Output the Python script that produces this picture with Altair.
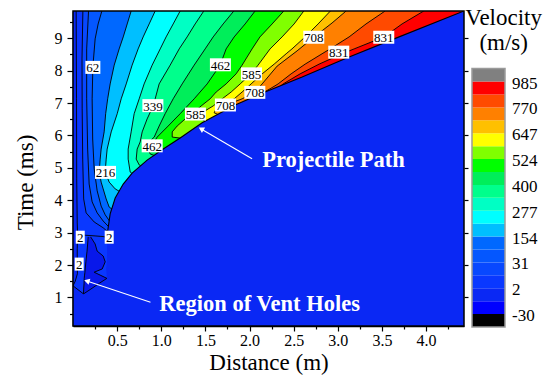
import altair as alt
import pandas as pd

FONT = "Liberation Serif, Times New Roman, serif"

# ---------------- axis extents / ticks ----------------
X_MAX = 4.43
T_MIN = 0.12
T_MAX = 9.84
x_ticks = [0.25, 0.5, 0.75, 1.0, 1.25, 1.5, 1.75, 2.0, 2.25, 2.5, 2.75, 3.0, 3.25, 3.5, 3.75, 4.0, 4.25]
t_ticks = [0.5, 1.0, 1.5, 2.0, 2.5, 3.0, 3.5, 4.0, 4.5, 5.0, 5.5, 6.0, 6.5, 7.0, 7.5, 8.0, 8.5, 9.0, 9.5]
t_major = [1, 2, 3, 4, 5, 6, 7, 8, 9]

# ---------------- colour bands (bottom -> top) ----------------
band_colors = ["#000000", "#0000ff", "#0a28f4", "#0a38ff", "#0848ff", "#0457ff", "#0068ff",
               "#00bfff", "#00ffff", "#00ffc4", "#00ff8c", "#00ee5a", "#00ff00", "#80ff00",
               "#ffff00", "#ffc000", "#ff8000", "#ff4a00", "#ff0000", "#808080"]
vent_color = "#0818ea"
cb_values = ["-30", "2", "31", "154", "277", "400", "524", "647", "770", "985"]
cb_value_band = [1, 3, 5, 7, 9, 11, 13, 15, 17, 19]

# ---------------- projectile path (boundary of undisturbed region) ----------------
path_t = [9.84, 8.98, 8.42, 8.20, 7.80, 7.34, 6.94, 6.39, 5.92, 5.58, 5.24, 4.84, 4.50, 4.07, 3.58, 3.05, 2.81]
path_x = [4.43, 3.638, 3.128, 2.935, 2.596, 2.176, 1.837, 1.463, 1.214, 1.022, 0.840, 0.670, 0.569, 0.478, 0.421, 0.393, 0.387]
flat_low_t = [2.50, 2.19, 1.88, 1.59, 1.11, 1.08, 0.12]
flat_low_x = [0.387, 0.387, 0.376, 0.384, 0.119, 0.0, 0.0]

# ---------------- contour lines (time ms, distance m) ----------------
c23_t = [9.84, 7.13, 4.66, 3.30, 2.95, 2.50, 2.03, 1.73, 1.50, 1.36, 1.11]
c23_x = [0.036, 0.040, 0.042, 0.048, 0.053, 0.048, 0.048, 0.050, 0.025, 0.0, 0.119]
c34_t = [9.84, 8.36, 6.82, 5.27, 4.04, 3.61, 3.33, 3.15, 2.99]
c34_x = [0.112, 0.102, 0.104, 0.110, 0.121, 0.149, 0.240, 0.342, 0.410]
c45_t = [9.84, 8.67, 7.13, 5.58, 4.50, 3.95, 3.61, 3.36, 3.15]
c45_x = [0.176, 0.155, 0.155, 0.166, 0.183, 0.217, 0.274, 0.342, 0.416]
c56_t = [9.84, 9.44, 8.98, 8.11, 7.13, 5.89, 4.97, 4.29, 3.82, 3.55, 3.33]
c56_x = [0.327, 0.285, 0.251, 0.225, 0.217, 0.223, 0.240, 0.274, 0.319, 0.365, 0.421]
c67_t = [9.84, 9.44, 9.04, 8.67, 8.17, 7.59, 7.13, 6.67, 6.11, 5.58, 5.27, 4.87, 4.56, 4.35, 4.04, 3.79, 3.70]
c67_x = [0.659, 0.614, 0.569, 0.523, 0.467, 0.421, 0.393, 0.370, 0.353, 0.319, 0.308, 0.297, 0.319, 0.342, 0.376, 0.410, 0.455]
c78_t = [9.84, 9.44, 9.04, 8.67, 8.17, 7.59, 7.13, 6.67, 6.11, 5.58, 5.27, 4.87, 4.56, 4.35, 4.26]
c78_x = [0.931, 0.863, 0.795, 0.738, 0.670, 0.603, 0.546, 0.501, 0.433, 0.387, 0.376, 0.365, 0.410, 0.478, 0.535]
c89_t = [9.84, 9.44, 9.04, 8.67, 8.17, 7.59, 7.13, 6.67, 6.11, 5.58, 5.27, 4.87, 4.80]
c89_x = [1.214, 1.135, 1.055, 0.988, 0.897, 0.806, 0.750, 0.693, 0.659, 0.625, 0.625, 0.648, 0.682]
c910_t = [9.84, 9.44, 9.04, 8.67, 8.17, 7.59, 7.13, 6.91, 6.51, 6.11, 5.80, 5.58, 5.27, 5.09, 5.03]
c910_x = [1.482, 1.384, 1.293, 1.203, 1.101, 0.976, 0.931, 0.908, 0.840, 0.784, 0.761, 0.727, 0.716, 0.750, 0.784]
c1011_t = [9.84, 9.44, 9.04, 8.67, 8.17, 7.59, 7.13, 6.67, 6.29, 5.95, 5.80, 5.58, 5.43, 5.37]
c1011_x = [1.822, 1.701, 1.588, 1.497, 1.373, 1.237, 1.135, 1.044, 0.976, 0.920, 0.863, 0.852, 0.874, 0.930]
c1112_t = [9.84, 9.44, 9.04, 8.67, 8.17, 7.59, 7.13, 6.67, 6.29, 5.95, 5.80, 5.67, 5.58, 5.49]
c1112_x = [2.063, 1.950, 1.826, 1.735, 1.667, 1.520, 1.373, 1.214, 1.078, 0.954, 0.920, 0.897, 0.920, 0.999]
c1213_t = [9.84, 9.44, 9.04, 8.67, 8.17, 7.90, 7.59, 7.34, 7.13, 6.91, 6.67, 6.51, 6.29, 6.11, 5.95, 5.91]
c1213_x = [2.388, 2.256, 2.118, 2.029, 1.916, 1.848, 1.735, 1.622, 1.554, 1.452, 1.350, 1.271, 1.180, 1.124, 1.124, 1.237]
c1314_t = [9.84, 9.44, 9.04, 8.67, 8.17, 7.90, 7.59, 7.34, 7.13, 6.91, 6.76, 6.67, 6.51, 6.42]
c1314_x = [2.615, 2.505, 2.369, 2.233, 2.097, 2.018, 1.894, 1.792, 1.690, 1.588, 1.497, 1.384, 1.452, 1.508]
c1415_t = [9.84, 9.44, 9.04, 8.67, 8.52, 8.20, 7.90, 7.59, 7.34, 7.13, 6.94, 6.82, 6.70, 6.63]
c1415_x = [2.916, 2.777, 2.630, 2.481, 2.415, 2.279, 2.143, 2.018, 1.916, 1.826, 1.701, 1.622, 1.599, 1.656]
c1516_t = [9.84, 9.47, 9.04, 8.61, 8.14, 7.59, 7.34, 7.13, 6.94, 6.86, 6.79]
c1516_x = [3.094, 2.935, 2.732, 2.539, 2.313, 2.143, 2.063, 1.916, 1.735, 1.735, 1.769]
c1617_t = [9.84, 9.44, 9.04, 8.67, 8.52, 8.20, 7.90, 7.59, 7.44, 7.28, 7.22]
c1617_x = [3.536, 3.320, 3.128, 2.913, 2.822, 2.630, 2.471, 2.324, 2.233, 2.129, 2.107]
c1718_t = [9.84, 9.44, 9.04, 8.67, 8.52, 8.20, 7.90, 7.59, 7.50]
c1718_x = [3.974, 3.728, 3.524, 3.185, 3.049, 2.788, 2.573, 2.381, 2.340]

branch_t = [2.95, 2.92, 2.90, 2.88, 2.85]
branch_x = [0.053, 0.14, 0.25, 0.34, 0.40]

# vent-hole region (darker pocket)
vent_t = [2.87, 2.65, 2.43, 2.28, 2.10, 1.88, 1.78, 1.69, 1.59, 1.42, 1.26, 1.11]
vent_xl = [0.172, 0.166, 0.159, 0.153, 0.146, 0.138, 0.135, 0.131, 0.127, 0.125, 0.121, 0.119]
vent_xr = [0.200, 0.251, 0.274, 0.342, 0.365, 0.331, 0.240, 0.308, 0.384, 0.288, 0.203, 0.119]

# contour labels
lab_text = ["62", "216", "339", "462", "462", "585", "585", "708", "708", "708", "831", "831", "2", "2", "2"]
lab_x = [0.225, 0.368, 0.905, 1.670, 0.897, 2.022, 1.387, 2.728, 2.060, 1.727, 3.521, 3.011, 0.082, 0.410, 0.070]
lab_t = [8.10, 4.86, 6.92, 8.18, 5.68, 7.90, 6.66, 9.03, 7.33, 6.94, 9.03, 8.57, 2.86, 2.86, 2.03]

# annotations
ann_text = ["Projectile Path", "Region of Vent Holes"]
ann_x = [2.952, 2.114]
ann_t = [5.24, 0.80]
arrow_start_x = [2.029, 0.878]
arrow_start_t = [5.28, 0.85]
arrow_tip_x = [1.452, 0.157]
arrow_tip_t = [6.20, 1.51]
arrow_angle = [300, 287]

# ---------------- build ----------------
xs = alt.Scale(domain=[0, X_MAX], nice=False, zero=False)
ys = alt.Scale(domain=[T_MIN, T_MAX], nice=False, zero=False)


def X(f):
    return alt.X(f"{f}:Q", scale=xs, axis=None)


def Y(f):
    return alt.Y(f"{f}:Q", scale=ys, axis=None)


contours = [
    ("c23", c23_t, c23_x, 3), ("c34", c34_t, c34_x, 4), ("c45", c45_t, c45_x, 5),
    ("c56", c56_t, c56_x, 6), ("c67", c67_t, c67_x, 7), ("c78", c78_t, c78_x, 8),
    ("c89", c89_t, c89_x, 9), ("c910", c910_t, c910_x, 10), ("c1011", c1011_t, c1011_x, 11),
    ("c1112", c1112_t, c1112_x, 12), ("c1213", c1213_t, c1213_x, 13), ("c1314", c1314_t, c1314_x, 14),
    ("c1415", c1415_t, c1415_x, 15), ("c1516", c1516_t, c1516_x, 16), ("c1617", c1617_t, c1617_x, 17),
    ("c1718", c1718_t, c1718_x, 18),
]

axis_df = pd.DataFrame({"x": [0, X_MAX], "t": [T_MIN, T_MAX]})
x_axis = alt.Axis(
    values=x_ticks, title="Distance (m)",
    labelExpr="datum.value % 0.5 === 0 ? format(datum.value, '.1f') : ''",
    tickSize={"condition": {"test": "datum.value % 0.5 === 0", "value": 5}, "value": 3},
    labelFont=FONT, labelFontSize=16, labelColor="black", labelPadding=1, labelFlush=False,
    labelOverlap=False, titleFont=FONT, titleFontSize=23, titleFontWeight="normal",
    titleColor="black", titleY=25, titleBaseline="top", domainColor="black", domainWidth=1.5,
    tickColor="black", tickWidth=1.2, grid=False)
y_axis = alt.Axis(
    values=t_ticks, title="Time (ms)",
    labelExpr="datum.value % 1 === 0 ? format(datum.value, 'd') : ''",
    tickSize={"condition": {"test": "datum.value % 1 === 0", "value": 6}, "value": 3.5},
    labelFont=FONT, labelFontSize=16, labelColor="black", labelPadding=5, labelOverlap=False,
    labelFlush=False, titleFont=FONT, titleFontSize=23, titleFontWeight="normal",
    titleColor="black", titleX=-48, titleY=171, titleBaseline="middle", titleAngle=270,
    domainColor="black", domainWidth=1.5, tickColor="black", tickWidth=1.2, grid=False)
y_axis_r = alt.Axis(values=t_major, orient="right", labels=False, title=None, domain=False,
                    tickSize=4, tickColor="black", tickWidth=1.2, grid=False)

layers = []
layers.append(alt.Chart(axis_df).mark_point(opacity=0).encode(
    x=alt.X("x:Q", scale=xs, axis=x_axis), y=alt.Y("t:Q", scale=ys, axis=y_axis)))
layers.append(alt.Chart(axis_df).mark_point(opacity=0).encode(
    x=alt.X("x:Q", scale=xs, axis=None), y=alt.Y("t:Q", scale=ys, axis=y_axis_r)))

bg = pd.DataFrame({"x": [0.0], "x2": [X_MAX], "t": [T_MIN], "t2": [T_MAX]})
layers.append(alt.Chart(bg).mark_rect(color=band_colors[2]).encode(
    x=X("x"), x2="x2:Q", y=Y("t"), y2="t2:Q"))

for name, ct, cx, b in contours:
    d = pd.DataFrame({"t": ct, "x": cx, "xr": [X_MAX] * len(ct)})
    layers.append(alt.Chart(d).mark_area(orient="horizontal", color=band_colors[b], clip=True).encode(
        y=Y("t"), x=X("x"), x2="xr:Q"))

rows = []
for name, ct, cx, b in contours:
    for i, (t, x) in enumerate(zip(ct, cx)):
        rows.append({"name": name, "i": i, "t": t, "x": x})
for i, (t, x) in enumerate(zip(branch_t, branch_x)):
    rows.append({"name": "branch", "i": i, "t": t, "x": x})
lines_df = pd.DataFrame(rows)
layers.append(alt.Chart(lines_df).mark_line(color="black", strokeWidth=0.9, clip=True).encode(
    x=X("x"), y=Y("t"), detail="name:N", order="i:Q"))

flat_df = pd.DataFrame({"t": path_t + flat_low_t, "x": path_x + flat_low_x,
                        "xr": [X_MAX] * (len(path_t) + len(flat_low_t))})
layers.append(alt.Chart(flat_df).mark_area(orient="horizontal", color=band_colors[2], clip=True).encode(
    y=Y("t"), x=X("x"), x2="xr:Q"))

path_df = pd.DataFrame({"t": path_t, "x": path_x, "i": list(range(len(path_t)))})
layers.append(alt.Chart(path_df).mark_line(color="black", strokeWidth=1.1, clip=True).encode(
    x=X("x"), y=Y("t"), order="i:Q"))

vent_df = pd.DataFrame({"t": vent_t, "xl": vent_xl, "xr": vent_xr})
layers.append(alt.Chart(vent_df).mark_area(orient="horizontal", color=vent_color).encode(
    y=Y("t"), x=X("xl"), x2="xr:Q"))
vrows = []
for i, (t, a, c) in enumerate(zip(vent_t, vent_xl, vent_xr)):
    vrows.append({"name": "l", "i": i, "t": t, "x": a})
    vrows.append({"name": "r", "i": i, "t": t, "x": c})
layers.append(alt.Chart(pd.DataFrame(vrows)).mark_line(color="black", strokeWidth=0.9).encode(
    x=X("x"), y=Y("t"), detail="name:N", order="i:Q"))

lab_df = pd.DataFrame({"text": lab_text, "x": lab_x, "t": lab_t,
                       "n": [len(s) for s in lab_text]})
for n, half in [(1, 4.5), (2, 7.5), (3, 10.5)]:
    layers.append(alt.Chart(lab_df).transform_filter(f"datum.n == {n}").mark_rect(
        color="white", xOffset=-half, x2Offset=half, yOffset=-6.5, y2Offset=6.5).encode(
        x=X("x"), x2="x:Q", y=Y("t"), y2="t:Q"))
layers.append(alt.Chart(lab_df).mark_text(font=FONT, fontSize=13, color="black",
                                          baseline="middle", align="center", dy=1).encode(
    x=X("x"), y=Y("t"), text="text:N"))

arows = []
for k in range(len(arrow_tip_x)):
    arows.append({"name": k, "i": 0, "x": arrow_start_x[k], "t": arrow_start_t[k]})
    arows.append({"name": k, "i": 1, "x": arrow_tip_x[k], "t": arrow_tip_t[k]})
layers.append(alt.Chart(pd.DataFrame(arows)).mark_line(color="white", strokeWidth=1.1).encode(
    x=X("x"), y=Y("t"), detail="name:N", order="i:Q"))
for k in range(len(arrow_tip_x)):
    hd = pd.DataFrame({"x": [arrow_tip_x[k]], "t": [arrow_tip_t[k]]})
    layers.append(alt.Chart(hd).mark_point(shape="triangle-up", filled=True, color="white",
                                           opacity=1, size=40, angle=arrow_angle[k]).encode(
        x=X("x"), y=Y("t")))

ann_df = pd.DataFrame({"text": ann_text, "x": ann_x, "t": ann_t})
layers.append(alt.Chart(ann_df).mark_text(font=FONT, fontSize=22.5, fontWeight="bold", color="white",
                                          baseline="middle", align="center").encode(
    x=X("x"), y=Y("t"), text="text:N"))

layers.append(alt.Chart(bg).mark_rect(fillOpacity=0, stroke="black", strokeWidth=1.5).encode(
    x=X("x"), x2="x2:Q", y=Y("t"), y2="t2:Q"))

main = alt.layer(*layers).resolve_axis(x="independent", y="independent").properties(width=391, height=315)

# ---------------- colour bar ----------------
cbx = alt.Scale(domain=[0, 1], nice=False, zero=False)
cby = alt.Scale(domain=[0, 24.46], nice=False, zero=False)
cb_df = pd.DataFrame({"b": list(range(20)), "b2": list(range(1, 21)), "col": band_colors,
                      "x0": [0] * 20, "x1": [1] * 20})
cb_rect = alt.Chart(cb_df).mark_rect().encode(
    x=alt.X("x0:Q", scale=cbx, axis=None), x2="x1:Q",
    y=alt.Y("b:Q", scale=cby, axis=None), y2="b2:Q",
    color=alt.Color("col:N", scale=None))
cb_frame = alt.Chart(pd.DataFrame({"x0": [0], "x1": [1], "b": [0], "b2": [20]})).mark_rect(
    fillOpacity=0, stroke="#9a9a9a", strokeWidth=1.5).encode(
    x=alt.X("x0:Q", scale=cbx, axis=None), x2="x1:Q",
    y=alt.Y("b:Q", scale=cby, axis=None), y2="b2:Q")
cb_lab = alt.Chart(pd.DataFrame({"v": cb_values, "b": cb_value_band, "x": [1] * 10})).mark_text(
    font=FONT, fontSize=17, color="black", align="left", baseline="middle", dx=7, dy=2).encode(
    x=alt.X("x:Q", scale=cbx, axis=None), y=alt.Y("b:Q", scale=cby, axis=None), text="v:N")
cb_title = alt.Chart(pd.DataFrame({"s": ["Velocity", "(m/s)"], "x": [0.96, 0.96], "b": [23.9, 21.95]})).mark_text(
    font=FONT, fontSize=23, color="black", align="center", baseline="middle").encode(
    x=alt.X("x:Q", scale=cbx, axis=None), y=alt.Y("b:Q", scale=cby, axis=None), text="s:N")
cbar = alt.layer(cb_rect, cb_frame, cb_lab, cb_title).properties(width=33, height=316)

chart = alt.hconcat(main, cbar, spacing=8, bounds="flush").properties(
    padding={"left": 13, "top": 6, "right": 3, "bottom": 3}
).configure_view(stroke="transparent")

chart.save("out.html", embed_options={"renderer": "svg", "actions": False})
